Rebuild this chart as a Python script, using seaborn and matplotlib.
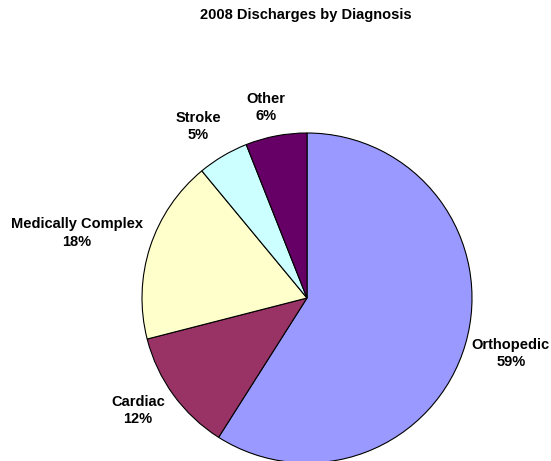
import numpy as np
import matplotlib.pyplot as plt
import seaborn as sns

# Data
categories = ["Orthopedic", "Cardiac", "Medically Complex", "Stroke", "Other"]
shares = [59, 12, 18, 5, 6]
colors = ["#9999FF", "#993366", "#FFFFCC", "#CCFFFF", "#660066"]

# Radial distance of each label (in pie radii)
label_dist = [1.28, 1.23, 1.45, 1.23, 1.18]
label_turn = [1.0, -2.4, 2.2, 1.7, 1.3]

sns.set_theme(style="white")
plt.rcParams["font.family"] = ["Liberation Sans", "DejaVu Sans"]
plt.rcParams["text.color"] = "black"

fig = plt.figure(figsize=(5.51, 4.61), dpi=100)
ax = fig.add_axes([142 / 551, -2 / 461, 330 / 551, 330 / 461])

wedges, _ = ax.pie(
    shares,
    colors=sns.color_palette(colors),
    startangle=90,
    counterclock=False,
    radius=1,
    wedgeprops={"edgecolor": "black", "linewidth": 0.8},
)
ax.set_xlim(-1, 1)
ax.set_ylim(-1, 1)
ax.set_aspect("equal")
ax.axis("off")

for w, name, val, d, t in zip(wedges, categories, shares, label_dist, label_turn):
    mid = np.deg2rad((w.theta1 + w.theta2) / 2 + t)
    ax.text(
        d * np.cos(mid), d * np.sin(mid), f"{name}\n{val}%",
        ha="center", va="center", fontsize=10.5, fontweight="bold",
        color="black", linespacing=1.3, clip_on=False,
    )

fig.text(306 / 551, 1 - 15 / 461, "2008 Discharges by Diagnosis",
         ha="center", va="center", fontsize=10.5, fontweight="bold",
         color="black")

fig.savefig("out.png", dpi=100)
